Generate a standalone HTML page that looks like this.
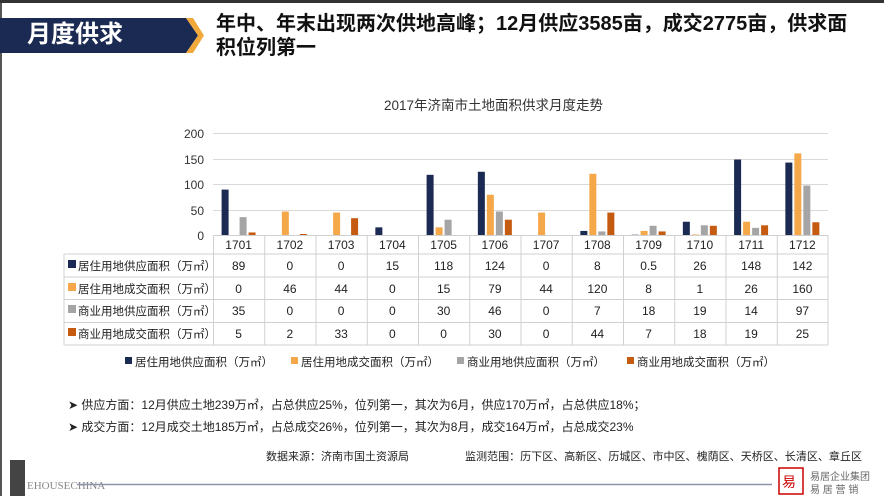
<!DOCTYPE html>
<html><head><meta charset="utf-8"><style>
body{margin:0;width:884px;height:496px;overflow:hidden;background:#fff;font-family:"Liberation Sans","Noto Sans CJK SC",sans-serif;position:relative}
.t{position:absolute;white-space:nowrap}
</style></head><body>
<div style="position:absolute;left:0;top:0;width:884px;height:3px;background:#333"></div>
<div style="position:absolute;left:0;top:3px;width:2px;height:493px;background:#555"></div>
<svg style="position:absolute;left:0;top:0" width="884" height="496">
<polygon points="0,18 186,18 198,35.5 186,53 0,53" fill="#1b2a52"/>
<polygon points="186,18 193,18 204,35.5 193,53 186,53 198,35.5" fill="#f2a93b"/>
</svg>
<div class="t" style="left:27px;top:19px;font-size:24px;font-weight:bold;color:#fff;line-height:32px">月度供求</div>
<div class="t" style="left:216px;top:12px;font-size:20px;font-weight:bold;color:#111;line-height:24px;white-space:normal;width:650px">年中、年末出现两次供地高峰；12月供应3585亩，成交2775亩，供求面积位列第一</div>
<div class="t" style="left:384px;top:94px;font-size:13.5px;color:#333">2017年济南市土地面积供求月度走势</div>
<svg style="position:absolute;left:0;top:0" width="884" height="496" font-family="Liberation Sans, Noto Sans CJK SC, sans-serif">
<g stroke="#d9d9d9" stroke-width="1">
<line x1="213" y1="133.5" x2="828" y2="133.5"/><line x1="213" y1="159.5" x2="828" y2="159.5"/><line x1="213" y1="184.5" x2="828" y2="184.5"/><line x1="213" y1="210.5" x2="828" y2="210.5"/>
</g>
<g font-size="12" fill="#333" text-anchor="end">
<text x="204" y="138">200</text><text x="204" y="164">150</text><text x="204" y="189">100</text><text x="204" y="215">50</text><text x="204" y="240">0</text>
</g>
<g id="bars"></g>
<g stroke="#d0d0d0" stroke-width="1" fill="none">
<line x1="213" y1="235.5" x2="828" y2="235.5"/>
<line x1="64" y1="254" x2="828" y2="254"/><line x1="64" y1="277" x2="828" y2="277"/><line x1="64" y1="299.5" x2="828" y2="299.5"/><line x1="64" y1="322.5" x2="828" y2="322.5"/><line x1="64" y1="345" x2="828" y2="345"/>
<line x1="64" y1="254" x2="64" y2="345"/>
<g id="vl"></g>
</g>
<g id="tx" font-size="12" fill="#222"></g>
<g font-size="11.5" fill="#222">
<rect x="68" y="260" width="8" height="8" fill="#1b2a52"/><text x="78" y="270">居住用地供应面积（万㎡）</text>
<rect x="68" y="283" width="8" height="8" fill="#f5a84a"/><text x="78" y="293">居住用地成交面积（万㎡）</text>
<rect x="68" y="305" width="8" height="8" fill="#a5a5a5"/><text x="78" y="315">商业用地供应面积（万㎡）</text>
<rect x="68" y="328" width="8" height="8" fill="#c55a11"/><text x="78" y="338">商业用地成交面积（万㎡）</text>
</g>
<g font-size="11.5" fill="#222">
<rect x="125" y="357" width="7" height="7" fill="#1b2a52"/><text x="135" y="366">居住用地供应面积（万㎡）</text>
<rect x="291" y="357" width="7" height="7" fill="#f5a84a"/><text x="301" y="366">居住用地成交面积（万㎡）</text>
<rect x="457" y="357" width="7" height="7" fill="#a5a5a5"/><text x="467" y="366">商业用地供应面积（万㎡）</text>
<rect x="627" y="357" width="7" height="7" fill="#c55a11"/><text x="637" y="366">商业用地成交面积（万㎡）</text>
</g>
<g font-size="12" fill="#222">
<text x="68" y="409">➤ 供应方面：12月供应土地239万㎡，占总供应25%，位列第一，其次为6月，供应170万㎡，占总供应18%；</text>
<text x="68" y="431">➤ 成交方面：12月成交土地185万㎡，占总成交26%，位列第一，其次为8月，成交164万㎡，占总成交23%</text>
<text x="266" y="460" font-size="11">数据来源：济南市国土资源局</text>
<text x="465" y="460" font-size="11" textLength="397" lengthAdjust="spacingAndGlyphs">监测范围：历下区、高新区、历城区、市中区、槐荫区、天桥区、长清区、章丘区</text>
</g>
<rect x="10" y="460" width="15" height="36" fill="#444"/>
<text x="27" y="489" font-size="11" fill="#888" font-family="Liberation Serif, serif">EHOUSECHINA</text>
<line x1="77" y1="484.5" x2="772" y2="484.5" stroke="#8a93a8" stroke-width="1.5"/>
<rect x="779" y="468" width="24" height="26" fill="#fff" stroke="#c00" stroke-width="1.5"/>
<text x="782" y="487" font-size="14" fill="#c00">易</text>
<text x="810" y="480" font-size="10" fill="#666">易居企业集团</text>
<text x="810" y="493" font-size="10" fill="#666">易 居 营 销</text>
</svg>
<script>
var d=[[89,0,35,5],[0,46,0,2],[0,44,0,33],[15,0,0,0],[118,15,30,0],[124,79,46,30],[0,44,0,0],[8,120,7,44],[0.5,8,18,7],[26,1,19,18],[148,26,14,19],[142,160,97,25]];
var c=["#1b2a52","#f5a84a","#a5a5a5","#c55a11"],ns="http://www.w3.org/2000/svg";
var b=document.getElementById("bars"),v=document.getElementById("vl"),tx=document.getElementById("tx");
function el(p,n,a,t){var e=document.createElementNS(ns,n);for(var k in a)e.setAttribute(k,a[k]);if(t!=null)e.textContent=t;p.appendChild(e);}
var W=615/12;
for(var i=0;i<12;i++){var x0=213+i*W;
 for(var j=0;j<4;j++){var h=d[i][j]*0.51;if(h>0)el(b,"rect",{x:x0+8.6+j*9,y:235-h,width:7,height:h,fill:c[j]});}
 el(v,"line",{x1:x0+0.5,y1:235,x2:x0+0.5,y2:345});
 var cx=x0+W/2;
 el(tx,"text",{x:cx,y:249,"text-anchor":"middle"},String(1701+i));
 var ys=[270,293,315,338];
 for(var j=0;j<4;j++)el(tx,"text",{x:cx,y:ys[j],"text-anchor":"middle"},String(d[i][j]));
}
el(v,"line",{x1:828,y1:235,x2:828,y2:345});
</script>
</body></html>
